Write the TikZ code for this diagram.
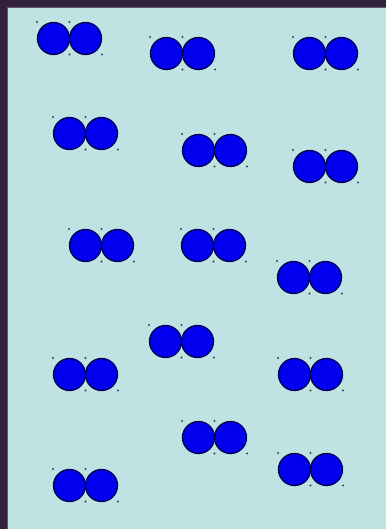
\documentclass[tikz,border=0pt]{standalone}
\definecolor{frame}{HTML}{33203A}
\definecolor{bgcyan}{HTML}{BEE3E2}
\definecolor{atomfill}{HTML}{0000EE}
\definecolor{atomline}{HTML}{000050}
\definecolor{handlecol}{HTML}{3A4444}
\tikzset{
  atom/.style={circle, fill=atomfill, draw=atomline, line width=1.3pt, minimum size=32pt, inner sep=0pt},
  handle/.style={fill=handlecol}
}
\begin{document}
\begin{tikzpicture}[x=1pt,y=-1pt]
\useasboundingbox (0,0) rectangle (386,529);
\fill[frame] (0,0) rectangle (386,529);
\fill[bgcyan] (7,7) rectangle (386,529);
\draw[gray!60!frame, line width=0.8pt] (7,529) -- (7,7) -- (386,7);
\foreach \n/\x/\y in {1/37/22, 2/150/37, 3/293/37, 4/53/117, 5/182/134, 6/293/150, 7/69/229, 8/181/229, 9/277/261, 10/149/325, 11/53/358, 12/278/358, 13/182/421, 14/278/453, 15/53/469} {
  \node[atom] (a\n) at (\x+16.5,\y+16.5) {};
  \node[atom] (b\n) at (\x+48.5,\y+16.5) {};
  \fill[handle] (\x,\y) circle (1.1);
  \fill[handle] (\x+32.5,\y) circle (1.1);
  \fill[handle] (\x+32.5,\y+32.5) circle (1.1);
  \fill[handle] (\x+65,\y+32.5) circle (1.1);
}
\end{tikzpicture}
\end{document}
